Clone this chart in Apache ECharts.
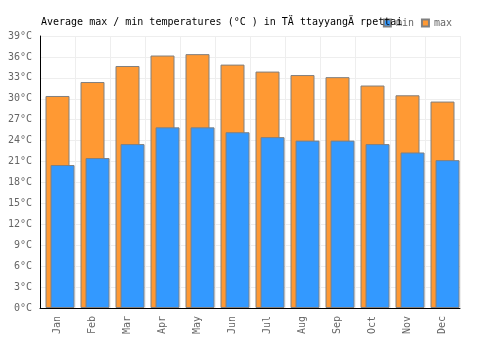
<!DOCTYPE html>
<html>
<head>
<meta charset="utf-8">
<script src="https://cdn.jsdelivr.net/npm/echarts@6/dist/echarts.min.js"></script>
<style>
html,body{margin:0;padding:0;background:#fff;}
#chart{width:500px;height:350px;}
</style>
</head>
<body>
<div id="chart"></div>
<script>
var months=['Jan','Feb','Mar','Apr','May','Jun','Jul','Aug','Sep','Oct','Nov','Dec'];
var tmax=[30.4,32.4,34.7,36.2,36.4,34.9,33.9,33.4,33.1,31.9,30.5,29.6];
var tmin=[20.5,21.5,23.5,25.9,25.9,25.2,24.5,24.0,24.0,23.5,22.3,21.2];
var blank=[];

var font='DejaVu Sans Mono';

var chart=echarts.init(document.getElementById('chart'));
var option={
    animation:false,
    title:{
        text:'Average max / min temperatures (°C ) in TÄ ttayyangÄ rpettai',
        left:36,
        top:12,
        textStyle:{fontFamily:font,fontSize:10,fontWeight:'normal',color:'#000'}
    },
    legend:{
        data:['min','max'],
        right:43,
        top:13,
        itemWidth:7,
        itemHeight:7,
        itemGap:7,
        icon:'rect',
        textStyle:{fontFamily:font,fontSize:10,color:'#666'}
    },
    grid:{left:40,right:40,top:36,bottom:42},
    xAxis:{
        type:'category',
        data:months,
        axisLine:{lineStyle:{color:'#000'}},
        axisTick:{show:false},
        axisLabel:{rotate:90,fontFamily:font,fontSize:10,color:'#666'},
        splitLine:{show:true,lineStyle:{color:'#eee'}}
    },
    yAxis:{
        type:'value',
        min:0,
        max:39,
        interval:3,
        axisLine:{show:true,lineStyle:{color:'#000'}},
        axisTick:{show:false},
        axisLabel:{formatter:'{value}°C',fontFamily:font,fontSize:10,color:'#666'},
        splitLine:{lineStyle:{color:'#eee'}}
    },
    series:[
        {name:'pad',type:'bar',data:blank,barWidth:24,barGap:'-79%'},
        {
            name:'max',
            type:'bar',
            data:tmax,
            barWidth:24,
            barGap:'-79%',
            itemStyle:{color:'#ff9933',borderColor:'#808080',borderWidth:1}
        },
        {
            name:'min',
            type:'bar',
            data:tmin,
            barWidth:24,
            barGap:'-79%',
            itemStyle:{color:'#3399ff',borderColor:'#808080',borderWidth:1}
        }
    ]
};
chart.setOption(option);
</script>
</body>
</html>
